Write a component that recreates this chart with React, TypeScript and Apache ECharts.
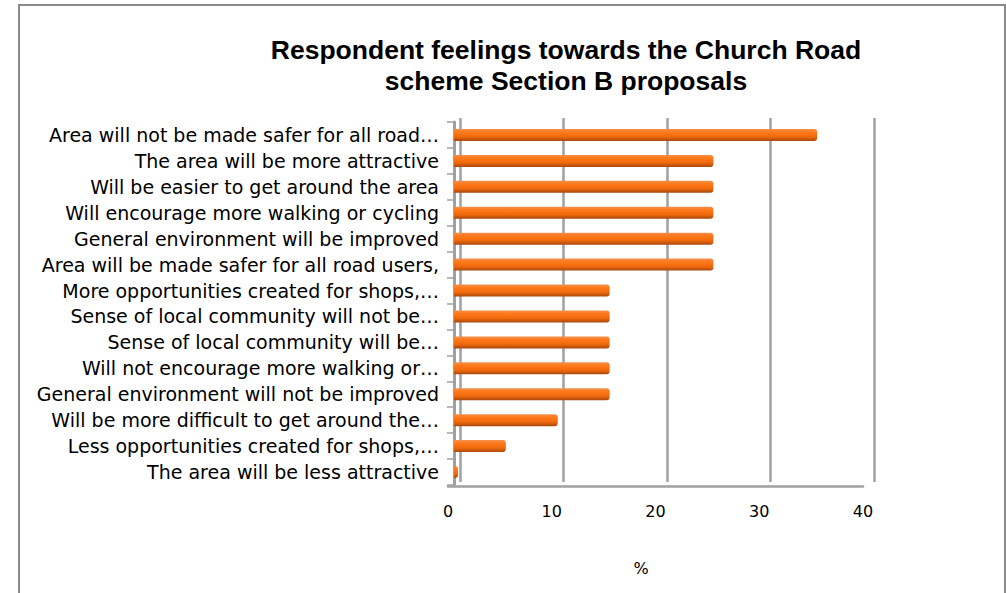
import React, { useEffect, useRef } from "react";
import * as echarts from "echarts";

const titleLines = ["Respondent feelings towards the Church Road", "scheme Section B proposals"];
const categories = [
  "Area will not be made safer for all road…",
  "The area will be more attractive",
  "Will be easier to get around the area",
  "Will encourage more walking or cycling",
  "General environment will be improved",
  "Area will be made safer for all road users,",
  "More opportunities created for shops,…",
  "Sense of local community will not be…",
  "Sense of local community will be…",
  "Will not encourage more walking or…",
  "General environment will not be improved",
  "Will be more difficult to get around the…",
  "Less opportunities created for shops,…",
  "The area will be less attractive",
];
const values = [35, 25, 25, 25, 25, 25, 15, 15, 15, 15, 15, 10, 5, 0];
const axisMin = 0;
const axisMax = 40;
const axisStep = 10;
const axisName = "%";

const FONT = "DejaVu Sans";
const GRAY = "#a0a0a0";

export default function App() {
  const ref = useRef<HTMLDivElement>(null);
  useEffect(() => {
    if (!ref.current) return;
    const chart = echarts.init(ref.current, undefined, { renderer: "svg" });
    chart.setOption({
      animation: false,
      backgroundColor: "#ffffff",
      title: {
        text: titleLines.join("\n"),
        left: 566,
        top: 34,
        textAlign: "center",
        padding: 0,
        textStyle: {
          fontFamily: "Liberation Sans",
          fontWeight: "bold",
          fontSize: 26.5,
          lineHeight: 31,
          color: "#000",
        },
      },
      grid: [
        { left: 460, top: 118, width: 414, height: 364 },
        { left: 454, top: 122, width: 415, height: 363 },
        { left: 448, top: 122, width: 415, height: 364 },
      ],
      xAxis: [
        {
          gridIndex: 0, type: "value", min: axisMin, max: axisMax, interval: axisStep,
          axisLabel: { show: false }, axisLine: { show: false }, axisTick: { show: false },
          splitLine: { show: true, lineStyle: { color: GRAY, width: 2.5 } },
        },
        {
          gridIndex: 1, type: "value", min: axisMin, max: axisMax, interval: axisStep, show: false,
        },
        {
          gridIndex: 2, type: "value", min: axisMin, max: axisMax, interval: axisStep,
          axisLine: { show: true, lineStyle: { color: GRAY, width: 2.5 } },
          axisTick: { show: false },
          splitLine: { show: false },
          axisLabel: { margin: 17, fontFamily: FONT, fontSize: 16, color: "#000" },
        },
      ],
      yAxis: [
        { gridIndex: 0, type: "value", show: false },
        {
          gridIndex: 1, type: "category", data: categories, inverse: true, offset: 2,
          axisLine: { show: true, lineStyle: { color: GRAY, width: 3 } },
          axisTick: { show: true, length: 7, lineStyle: { color: GRAY, width: 1.5 } },
          axisLabel: { margin: 13, fontFamily: FONT, fontSize: 19, color: "#000" },
          splitLine: { show: false },
        },
        { gridIndex: 2, type: "value", show: false },
      ],
      series: [
        {
          type: "bar",
          xAxisIndex: 1,
          yAxisIndex: 1,
          data: values,
          barWidth: 12,
          barMinHeight: 4,
          itemStyle: {
            borderRadius: [0, 3, 3, 0],
            color: new echarts.graphic.LinearGradient(0, 0, 0, 1, [
              { offset: 0, color: "#f29050" },
              { offset: 0.25, color: "#ff7a1c" },
              { offset: 0.65, color: "#f06a0c" },
              { offset: 1, color: "#a8480e" },
            ]),
          },
        },
      ],
      graphic: [
        {
          type: "rect",
          shape: { x: 19, y: 5, width: 986, height: 700 },
          style: { fill: "none", stroke: "#8a8a8a", lineWidth: 2 },
          silent: true,
        },
        {
          type: "text",
          x: 641,
          y: 568,
          style: {
            text: axisName,
            fontFamily: FONT,
            fontSize: 16,
            fill: "#000",
            textAlign: "center",
            textVerticalAlign: "middle",
          },
        },
      ],
    });
    return () => chart.dispose();
  }, []);
  return (
    <div
      ref={ref}
      style={{ position: "fixed", left: 0, top: 0, width: 1006, height: 593 }}
    />
  );
}
